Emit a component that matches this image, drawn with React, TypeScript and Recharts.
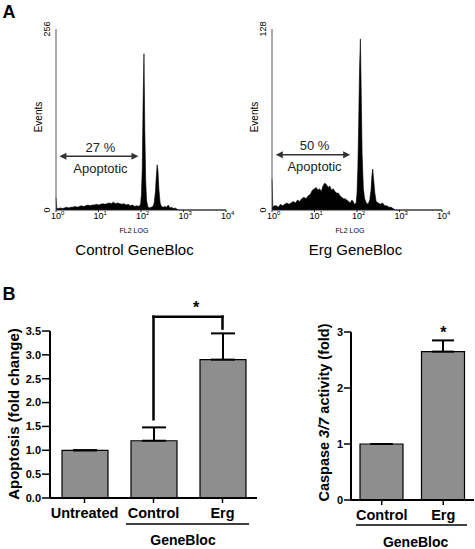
import React from 'react';
import {
  AreaChart,
  Area,
  XAxis,
  YAxis,
  BarChart,
  Bar,
  ErrorBar,
  ReferenceLine,
  ReferenceDot,
} from 'recharts';

const FONT = '"Liberation Sans", Arial, Helvetica, sans-serif';

// ---------------- Panel A: FL2 histograms (x = log10 FL2 intensity) ----------------
const controlFl2Log = [
  0.0, 0.02, 0.06, 0.1, 0.15, 0.2, 0.25, 0.3, 0.35, 0.4, 0.45, 0.5, 0.55, 0.6, 0.65, 0.7,
  0.75, 0.8, 0.85, 0.9, 0.95, 1.0, 1.05, 1.1, 1.15, 1.2, 1.25, 1.3, 1.35, 1.4, 1.45, 1.5,
  1.55, 1.6, 1.65, 1.7, 1.75, 1.8, 1.85, 1.9, 1.95, 1.99, 2.01, 2.03, 2.05, 2.07, 2.09,
  2.11, 2.13, 2.16, 2.2, 2.24, 2.28, 2.31, 2.34, 2.36, 2.38, 2.4, 2.42, 2.45, 2.48, 2.52,
  2.56, 2.6, 2.64, 2.68, 2.72, 2.76, 2.8, 2.85, 2.9, 4.0,
];
const controlEvents = [
  17, 2, 2, 3, 2, 3, 4, 3, 4, 4, 5, 4, 5, 6, 5, 6,
  7, 6, 7, 7, 8, 7, 8, 9, 8, 9, 10, 9, 11, 9, 10, 9,
  8, 9, 7, 8, 6, 7, 5, 6, 5, 8, 22, 60, 155, 221, 112,
  42, 14, 5, 3, 4, 5, 10, 26, 48, 64, 55, 30, 10, 5, 4,
  5, 4, 7, 3, 4, 2, 3, 1, 0, 0,
];
const ergFl2Log = [
  0.0, 0.02, 0.06, 0.1, 0.15, 0.2, 0.25, 0.3, 0.35, 0.4, 0.45, 0.5, 0.55, 0.6, 0.65, 0.7,
  0.75, 0.8, 0.85, 0.9, 0.95, 1.0, 1.04, 1.08, 1.12, 1.16, 1.2, 1.24, 1.28, 1.32, 1.36,
  1.4, 1.44, 1.48, 1.52, 1.56, 1.6, 1.64, 1.68, 1.72, 1.76, 1.8, 1.84, 1.88, 1.91, 1.94,
  1.98, 2.0, 2.02, 2.04, 2.06, 2.08, 2.1, 2.12, 2.15, 2.18, 2.22, 2.26, 2.3, 2.33, 2.35,
  2.37, 2.39, 2.42, 2.45, 2.5, 2.55, 2.6, 2.65, 2.7, 2.75, 2.8, 2.85, 2.9, 4.0,
];
const ergEvents = [
  22, 2, 3, 3, 2, 4, 3, 4, 5, 4, 5, 6, 5, 7, 6, 8,
  9, 8, 10, 11, 14, 15, 16, 14, 15, 13, 17, 19, 18, 16, 17,
  14, 15, 13, 12, 12, 10, 9, 8, 8, 7, 6, 5, 7, 6, 4,
  5, 12, 30, 62, 100, 121, 82, 40, 15, 8, 5, 4, 7, 14, 24,
  29, 22, 12, 6, 5, 4, 5, 3, 3, 2, 2, 1, 0, 0,
];
const decadeTicks = [0, 1, 2, 3, 4];
const controlEventTicks = [0, 256];
const ergEventTicks = [0, 128];
const histTitles = ['Control GeneBloc', 'Erg GeneBloc'];
const apoptoticPercent = ['27 %', '50 %'];
const apoptoticFrom = [0.08, 0.09];
const apoptoticTo = [1.94, 1.84];
const apoptoticLevel = [76, 39];

// ---------------- Panel B: bar charts ----------------
const apoptosisGroups = ['Untreated', 'Control', 'Erg'];
const apoptosisFold = [1.0, 1.2, 2.9];
const apoptosisSem = [0, 0.28, 0.55];
const apoptosisTicks = [0, 0.5, 1.0, 1.5, 2.0, 2.5, 3.0, 3.5];
const bracketLow = 1.65;
const bracketTop = 3.8;
const bracketRight = 3.55;

const caspaseGroups = ['Control', 'Erg'];
const caspaseFold = [1.0, 2.65];
const caspaseSem = [0, 0.2];
const caspaseTicks = [0, 1, 2, 3];

const LogTick = (p: any) => (
  <text x={p.x - 5} y={p.y + 6.5} fontFamily={FONT} fontSize={9} fill="#000" textAnchor="start">
    10
    <tspan dy={-3.5} fontSize={6}>
      {p.payload.value}
    </tspan>
  </text>
);

const RotTick = (p: any) => {
  const bx = p.x - 6;
  return (
    <text
      x={bx}
      y={p.y}
      transform={`rotate(-90, ${bx}, ${p.y})`}
      textAnchor="middle"
      fontFamily={FONT}
      fontSize={9}
      fill="#000"
    >
      {p.payload.value}
    </text>
  );
};

const makeArrow = (pct: string) => (p: any) => {
  const { x1, y1, x2 } = p;
  const c = '#333';
  const mid = (x1 + x2) / 2;
  return (
    <g>
      <line x1={x1 + 5} y1={y1} x2={x2 - 5} y2={y1} stroke={c} strokeWidth={1.5} />
      <polygon points={`${x1},${y1} ${x1 + 7},${y1 - 3.5} ${x1 + 7},${y1 + 3.5}`} fill={c} />
      <polygon points={`${x2},${y1} ${x2 - 7},${y1 - 3.5} ${x2 - 7},${y1 + 3.5}`} fill={c} />
      <text x={mid + 1.5} y={y1 - 4.5} textAnchor="middle" fontFamily={FONT} fontSize={13} fill="#222">
        {pct}
      </text>
      <text x={mid + 1.5} y={y1 + 16.5} textAnchor="middle" fontFamily={FONT} fontSize={13} fill="#222">
        Apoptotic
      </text>
    </g>
  );
};

function Histogram(props: {
  left: number;
  fl2: number[];
  events: number[];
  yMax: number;
  yTicks: number[];
  title: string;
  titleShift: number;
  pct: string;
  from: number;
  to: number;
  level: number;
}) {
  const data = props.fl2.map((x, i) => ({ fl2: x, events: props.events[i] }));
  return (
    <div style={{ position: 'absolute', left: props.left, top: 0 }}>
      <AreaChart
        width={240}
        height={262}
        data={data}
        margin={{ top: 29, right: 14, bottom: 0, left: 0 }}
      >
        <XAxis
          dataKey="fl2"
          type="number"
          domain={[0, 4]}
          ticks={decadeTicks}
          interval={0}
          height={52}
          tickSize={2}
          tickMargin={0}
          axisLine={{ stroke: '#222', strokeWidth: 1 }}
          tickLine={{ stroke: '#222' }}
          tick={(p: any) => <LogTick {...p} />}
          label={(lp: any) => {
            const vb = lp.viewBox;
            const cx = vb.x + vb.width / 2;
            return (
              <g>
                <text x={cx - 7} y={vb.y + 22.5} textAnchor="middle" fontFamily={FONT} fontSize={7} fill="#000">
                  FL2 LOG
                </text>
                <text
                  x={cx + props.titleShift}
                  y={vb.y + 45}
                  textAnchor="middle"
                  fontFamily={FONT}
                  fontSize={15}
                  fill="#000"
                >
                  {props.title}
                </text>
              </g>
            );
          }}
        />
        <YAxis
          type="number"
          domain={[0, props.yMax]}
          ticks={props.yTicks}
          width={56}
          tickSize={0}
          tickMargin={0}
          tickLine={false}
          axisLine={{ stroke: '#555', strokeWidth: 1 }}
          tick={(p: any) => <RotTick {...p} />}
          label={(lp: any) => {
            const vb = lp.viewBox;
            const bx = vb.x + vb.width - 14;
            const cy = vb.y + 88;
            return (
              <text
                x={bx}
                y={cy}
                transform={`rotate(-90, ${bx}, ${cy})`}
                textAnchor="middle"
                fontFamily={FONT}
                fontSize={10}
                fill="#000"
              >
                Events
              </text>
            );
          }}
        />
        <Area
          dataKey="events"
          type="linear"
          fill="#000"
          fillOpacity={1}
          stroke="#000"
          strokeWidth={0.6}
          dot={false}
          activeDot={false}
          isAnimationActive={false}
        />
        <ReferenceLine
          segment={[
            { x: props.from, y: props.level },
            { x: props.to, y: props.level },
          ]}
          ifOverflow="visible"
          shape={makeArrow(props.pct)}
        />
      </AreaChart>
    </div>
  );
}

const boldTick = { fill: '#000', fontSize: 11, fontWeight: 'bold', fontFamily: FONT };
const catTick = { fill: '#000', fontSize: 14.5, fontWeight: 'bold', fontFamily: FONT };
const axisStyle = { stroke: '#000', strokeWidth: 2 };
const tickStyle = { stroke: '#000', strokeWidth: 1.5 };

function ApoptosisChart() {
  const data = apoptosisGroups.map((g, i) => ({
    group: g,
    fold: apoptosisFold[i],
    sem: [0, apoptosisSem[i]],
  }));
  return (
    <div style={{ position: 'absolute', left: 0, top: 270 }}>
      <BarChart
        width={262}
        height={279}
        data={data}
        margin={{ top: 61, right: 5, bottom: 0, left: 0 }}
        barSize={46}
      >
        <XAxis
          dataKey="group"
          type="category"
          interval={0}
          height={51}
          tickSize={5}
          tickMargin={5}
          axisLine={axisStyle}
          tickLine={tickStyle}
          tick={catTick}
          label={(lp: any) => {
            const vb = lp.viewBox;
            return (
              <g>
                <line x1={126} x2={249} y1={vb.y + 26} y2={vb.y + 26} stroke="#000" strokeWidth={1.5} />
                <text x={183} y={vb.y + 47} textAnchor="middle" fontFamily={FONT} fontWeight="bold" fontSize={14} fill="#000">
                  GeneBloc
                </text>
              </g>
            );
          }}
        />
        <YAxis
          type="number"
          domain={[0, 3.5]}
          ticks={apoptosisTicks}
          interval={0}
          width={50}
          tickSize={8}
          tickMargin={1}
          axisLine={axisStyle}
          tickLine={tickStyle}
          tick={boldTick}
          tickFormatter={(v: number) => v.toFixed(1)}
          label={(lp: any) => {
            const vb = lp.viewBox;
            const bx = vb.x + 19;
            const cy = vb.y + 83;
            return (
              <text
                x={bx}
                y={cy}
                transform={`rotate(-90, ${bx}, ${cy})`}
                textAnchor="middle"
                fontFamily={FONT}
                fontWeight="bold"
                fontSize={15}
                fill="#000"
              >
                Apoptosis (fold change)
              </text>
            );
          }}
        />
        <Bar dataKey="fold" fill="#8e8e8e" stroke="#000" strokeWidth={1.2} isAnimationActive={false}>
          <ErrorBar dataKey="sem" width={12} stroke="#000" strokeWidth={2} direction="y" />
        </Bar>
        <ReferenceLine
          segment={[
            { x: 'Control', y: bracketLow },
            { x: 'Control', y: bracketTop },
          ]}
          stroke="#000"
          strokeWidth={2.5}
          strokeLinecap="square"
          ifOverflow="visible"
        />
        <ReferenceLine
          segment={[
            { x: 'Control', y: bracketTop },
            { x: 'Erg', y: bracketTop },
          ]}
          stroke="#000"
          strokeWidth={2.5}
          strokeLinecap="square"
          ifOverflow="visible"
          label={(lp: any) => {
            const vb = lp.viewBox;
            return (
              <text
                x={vb.x + vb.width / 2 + 8}
                y={vb.y - 3.5}
                textAnchor="middle"
                fontFamily={FONT}
                fontWeight="bold"
                fontSize={16}
                fill="#000"
              >
                *
              </text>
            );
          }}
        />
        <ReferenceLine
          segment={[
            { x: 'Erg', y: bracketTop },
            { x: 'Erg', y: bracketRight },
          ]}
          stroke="#000"
          strokeWidth={2.5}
          strokeLinecap="square"
          ifOverflow="visible"
        />
      </BarChart>
    </div>
  );
}

function CaspaseChart() {
  const data = caspaseGroups.map((g, i) => ({
    group: g,
    fold: caspaseFold[i],
    sem: [0, caspaseSem[i]],
  }));
  return (
    <div style={{ position: 'absolute', left: 262, top: 270 }}>
      <BarChart
        width={213}
        height={279}
        data={data}
        margin={{ top: 62, right: 1, bottom: 0, left: 0 }}
        barSize={43}
      >
        <XAxis
          dataKey="group"
          type="category"
          interval={0}
          height={49}
          tickSize={5}
          tickMargin={5}
          axisLine={axisStyle}
          tickLine={tickStyle}
          tick={catTick}
          label={(lp: any) => {
            const vb = lp.viewBox;
            return (
              <g>
                <line x1={94} x2={205} y1={vb.y + 25} y2={vb.y + 25} stroke="#000" strokeWidth={1.5} />
                <text x={153.6} y={vb.y + 47} textAnchor="middle" fontFamily={FONT} fontWeight="bold" fontSize={14} fill="#000">
                  GeneBloc
                </text>
              </g>
            );
          }}
        />
        <YAxis
          type="number"
          domain={[0, 3]}
          ticks={caspaseTicks}
          interval={0}
          width={89}
          tickSize={7}
          tickMargin={1}
          axisLine={axisStyle}
          tickLine={tickStyle}
          tick={boldTick}
          label={(lp: any) => {
            const vb = lp.viewBox;
            const bx = vb.x + 67;
            const cy = vb.y + 80.5;
            return (
              <text
                x={bx}
                y={cy}
                transform={`rotate(-90, ${bx}, ${cy})`}
                textAnchor="middle"
                fontFamily={FONT}
                fontWeight="bold"
                fontSize={14.5}
                fill="#000"
              >
                Caspase <tspan fontStyle="italic">3/7</tspan> activity (fold)
              </text>
            );
          }}
        />
        <Bar dataKey="fold" fill="#8e8e8e" stroke="#000" strokeWidth={1.2} isAnimationActive={false}>
          <ErrorBar dataKey="sem" width={11} stroke="#000" strokeWidth={2} direction="y" />
        </Bar>
        <ReferenceDot
          x="Erg"
          y={caspaseFold[1] + caspaseSem[1]}
          r={0}
          fill="none"
          stroke="none"
          ifOverflow="visible"
          label={(lp: any) => {
            const vb = lp.viewBox;
            return (
              <text
                x={vb.x + (vb.width || 0) / 2}
                y={vb.y - 2}
                textAnchor="middle"
                fontFamily={FONT}
                fontWeight="bold"
                fontSize={16}
                fill="#000"
              >
                *
              </text>
            );
          }}
        />
      </BarChart>
    </div>
  );
}

export default function App() {
  return (
    <div
      style={{
        position: 'absolute',
        left: 0,
        top: 0,
        width: 475,
        height: 549,
        background: '#fff',
        overflow: 'hidden',
        fontFamily: FONT,
      }}
    >
      <Histogram
        left={0}
        fl2={controlFl2Log}
        events={controlEvents}
        yMax={256}
        yTicks={controlEventTicks}
        title={histTitles[0]}
        titleShift={-6.5}
        pct={apoptoticPercent[0]}
        from={apoptoticFrom[0]}
        to={apoptoticTo[0]}
        level={apoptoticLevel[0]}
      />
      <Histogram
        left={216}
        fl2={ergFl2Log}
        events={ergEvents}
        yMax={128}
        yTicks={ergEventTicks}
        title={histTitles[1]}
        titleShift={-1.5}
        pct={apoptoticPercent[1]}
        from={apoptoticFrom[1]}
        to={apoptoticTo[1]}
        level={apoptoticLevel[1]}
      />
      <ApoptosisChart />
      <CaspaseChart />
      <svg width={475} height={549} style={{ position: 'absolute', left: 0, top: 0, pointerEvents: 'none' }}>
        <text x={2.5} y={18} fontFamily={FONT} fontWeight="bold" fontSize={18} fill="#000">
          A
        </text>
        <text x={2.5} y={300} fontFamily={FONT} fontWeight="bold" fontSize={18} fill="#000">
          B
        </text>
      </svg>
    </div>
  );
}
